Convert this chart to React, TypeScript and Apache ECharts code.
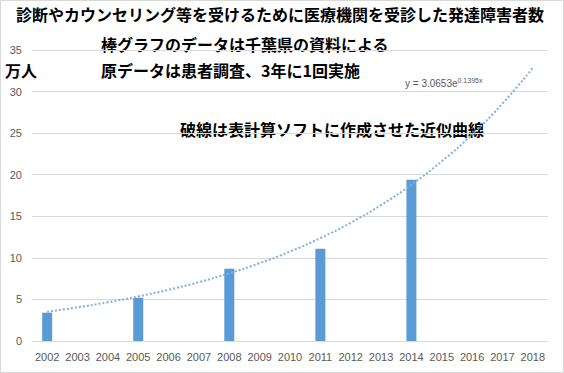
import React, { useEffect, useRef } from "react";
import * as echarts from "echarts";

const years = ["2002","2003","2004","2005","2006","2007","2008","2009","2010","2011","2012","2013","2014","2015","2016","2017","2018"];
const patients: (number | null)[] = [3.4, null, null, 5.2, null, null, 8.7, null, null, 11.1, null, null, 19.4, null, null, null, null];
const trend = [3.52, 4.05, 4.66, 5.36, 6.16, 7.08, 8.14, 9.36, 10.76, 12.37, 14.22, 16.35, 18.8, 21.61, 24.84, 28.56, 32.84];
const yTicks = { min: 0, max: 35, interval: 5 };

const titleMain = "診断やカウンセリング等を受けるために医療機関を受診した発達障害者数";
const note1 = "棒グラフのデータは千葉県の資料による";
const note2 = "原データは患者調査、3年に1回実施";
const unitLabel = "万人";
const note3 = "破線は表計算ソフトに作成させた近似曲線";

const jp = "'Noto Sans CJK JP', 'Noto Sans', sans-serif";
const latin = "'Liberation Sans', Arial, sans-serif";

export default function App() {
  const ref = useRef<HTMLDivElement>(null);
  useEffect(() => {
    if (!ref.current) return;
    const chart = echarts.init(ref.current, null, { renderer: "svg" });
    const boldText = (x: number, y: number, text: string) => ({
      type: "text",
      left: x,
      top: y,
      style: { text, fill: "#000", font: `bold 16px ${jp}` },
    });
    chart.setOption({
      animation: false,
      backgroundColor: "#fff",
      grid: { left: 32, right: 16, top: 50, bottom: 32 },
      xAxis: {
        type: "category",
        data: years,
        axisLine: { lineStyle: { color: "#d9d9d9", width: 1 } },
        axisTick: { show: false },
        axisLabel: { color: "#595959", fontSize: 11, fontFamily: latin, margin: 10, interval: 0 },
      },
      yAxis: {
        type: "value",
        min: yTicks.min,
        max: yTicks.max,
        interval: yTicks.interval,
        axisLine: { show: false },
        axisTick: { show: false },
        axisLabel: { color: "#595959", fontSize: 11, fontFamily: latin, margin: 10 },
        splitLine: { lineStyle: { color: "#d9d9d9", width: 1 } },
      },
      series: [
        {
          type: "bar",
          data: patients,
          barWidth: 10,
          itemStyle: { color: "#5b9bd5" },
        },
        {
          type: "line",
          data: trend,
          smooth: true,
          showSymbol: false,
          symbol: "none",
          lineStyle: { color: "#7eb0e0", width: 2, type: [2, 2] },
          z: 3,
        },
      ],
      graphic: [
        {
          type: "rect",
          shape: { x: 0.5, y: 0.5, width: 563, height: 372 },
          style: { fill: "none", stroke: "#d9d9d9", lineWidth: 1 },
          silent: true,
        },
        boldText(16, 6, titleMain),
        boldText(101, 36, note1),
        boldText(101, 62, note2),
        boldText(5, 62, unitLabel),
        boldText(180, 121, note3),
        {
          type: "text",
          left: 405,
          top: 77,
          style: {
            rich: {
              a: { fontSize: 10, fill: "#595959", fontFamily: latin },
              s: { fontSize: 7, fill: "#595959", fontFamily: latin, verticalAlign: "top", padding: [0, 0, 6, 0] },
            },
            text: "{a|y = 3.0653e}{s|0.1395x}",
          },
        },
      ],
    });
    return () => chart.dispose();
  }, []);
  return <div ref={ref} style={{ position: "absolute", left: 0, top: 0, width: 564, height: 373 }} />;
}
